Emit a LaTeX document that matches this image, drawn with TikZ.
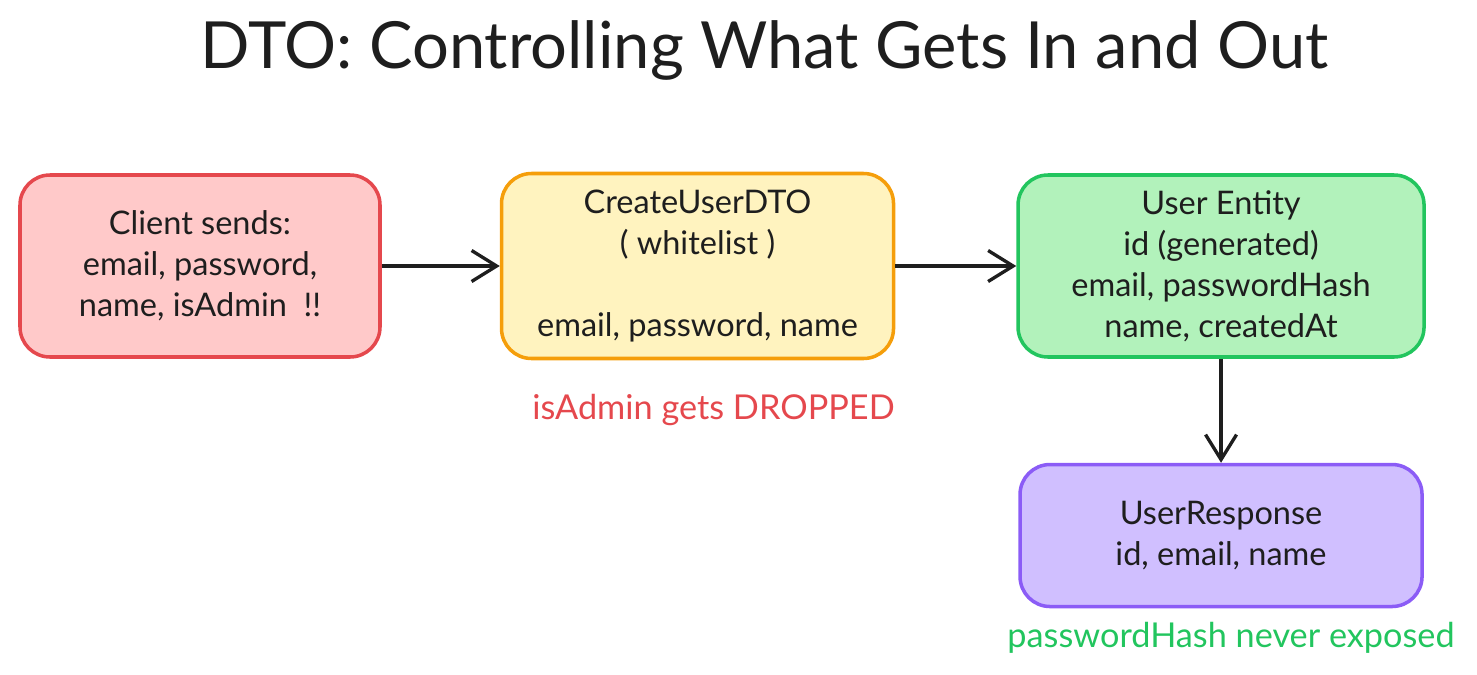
\documentclass[tikz,border=0pt]{standalone}
\usepackage{fontspec}
\setmainfont{Lato}
\usepackage{xcolor}
\usetikzlibrary{arrows.meta, positioning}

\definecolor{ink}{HTML}{1E1E1E}
\definecolor{redline}{HTML}{E5484D}
\definecolor{redfill}{HTML}{FFC9C9}
\definecolor{orgline}{HTML}{F59E0B}
\definecolor{orgfill}{HTML}{FFF3BF}
\definecolor{grnline}{HTML}{22C55E}
\definecolor{grnfill}{HTML}{B2F2BB}
\definecolor{violine}{HTML}{8B5CF6}
\definecolor{viofill}{HTML}{D0BFFF}

\begin{document}
\begin{tikzpicture}[
  box/.style={draw, line width=2pt, rounded corners=0.6cm, align=center, text=ink, font=\fontsize{18.5}{23.3}\selectfont},
  arr/.style={-{Straight Barb[length=0.5cm, width=0.62cm]}, line width=1.9pt, draw=ink},
  note/.style={font=\fontsize{19.5}{22}\selectfont}
]
  \useasboundingbox (0,0) rectangle (29.54,-13.48);

  \node[font=\fontsize{37}{44}\selectfont, text=ink] (title) at (15.29,-1.0) {DTO: Controlling What Gets In and Out};

  \node[box, draw=redline, fill=redfill, minimum width=7.2cm, minimum height=3.64cm] (client) at (4.0,-5.32) {Client sends:\\ email, password,\\ name, isAdmin \ !!};
  \node[box, draw=orgline, fill=orgfill, minimum width=7.84cm, minimum height=3.7cm, right=2.36cm of client] (dto) {CreateUserDTO\\ ( whitelist )\\[23.3pt] email, password, name};
  \node[box, draw=grnline, fill=grnfill, minimum width=8.12cm, minimum height=3.64cm, right=2.42cm of dto] (entity) {User Entity\\ id (generated)\\ email, passwordHash\\ name, createdAt};
  \node[box, draw=violine, fill=viofill, minimum width=8.04cm, minimum height=2.84cm, below=2.08cm of entity] (resp) {UserResponse\\ id, email, name};

  \node[note, text=redline, below=0.55cm of dto, xshift=0.32cm] (dropped) {isAdmin gets DROPPED};
  \node[note, text=grnline, below=0.15cm of resp, xshift=0.2cm] (hidden) {passwordHash never exposed};

  \draw[arr] (client) -- (dto);
  \draw[arr] (dto) -- (entity);
  \draw[arr] (entity) -- (resp);
\end{tikzpicture}
\end{document}
